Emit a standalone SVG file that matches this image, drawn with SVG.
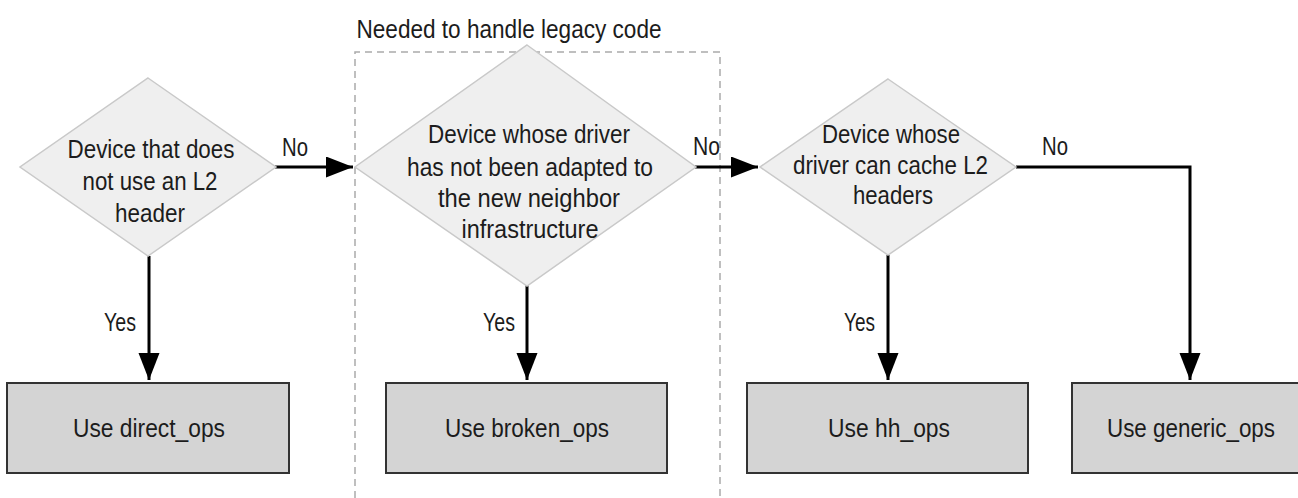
<svg xmlns="http://www.w3.org/2000/svg" width="1298" height="498" viewBox="0 0 1298 498">
<style>
text{font-family:"Liberation Sans Narrow","Liberation Sans",Arial,sans-serif;font-size:25px;fill:#1c1c1c;text-anchor:middle}
.dia{fill:#efefef;stroke:#c9c9c9;stroke-width:1.5}
.box{fill:#d4d4d4;stroke:#333;stroke-width:2}
.con{fill:none;stroke:#000;stroke-width:3}
.grp{fill:none;stroke:#aaa;stroke-width:1.5;stroke-dasharray:7 5}
</style>
<defs>
<marker id="ah" markerUnits="userSpaceOnUse" markerWidth="28" markerHeight="22" refX="27" refY="10.5" orient="auto">
<path d="M0,0 L27,10.5 L0,21 z" fill="#000"/>
</marker>
</defs>
<rect fill="#fff" x="0" y="0" width="1298" height="498"/>
<g id="legacy-group">
<path class="grp" d="M355,498 V52 H720 V498"/>
<text x="509" y="38" textLength="305" lengthAdjust="spacingAndGlyphs">Needed to handle legacy code</text>
</g>
<g id="connectors">
<path class="con" d="M275,167 H353" marker-end="url(#ah)"/>
<path class="con" d="M695,167 H758" marker-end="url(#ah)"/>
<path class="con" d="M1016,167 H1190 V380" marker-end="url(#ah)"/>
<path class="con" d="M149,256 V380" marker-end="url(#ah)"/>
<path class="con" d="M527,285 V380" marker-end="url(#ah)"/>
<path class="con" d="M888,255 V380" marker-end="url(#ah)"/>
<text x="295" y="156" textLength="26" lengthAdjust="spacingAndGlyphs">No</text>
<text x="706.5" y="155" textLength="27" lengthAdjust="spacingAndGlyphs">No</text>
<text x="1055" y="155" textLength="26" lengthAdjust="spacingAndGlyphs">No</text>
<text x="120" y="331" textLength="32" lengthAdjust="spacingAndGlyphs">Yes</text>
<text x="499" y="331" textLength="32" lengthAdjust="spacingAndGlyphs">Yes</text>
<text x="859.5" y="331" textLength="31" lengthAdjust="spacingAndGlyphs">Yes</text>
</g>
<g id="d1">
<path class="dia" d="M148,78 L276,167 L148,256 L20,167 z"/>
<text x="151" y="158" textLength="167" lengthAdjust="spacingAndGlyphs">Device that does</text>
<text x="150" y="190" textLength="135" lengthAdjust="spacingAndGlyphs">not use an L2</text>
<text x="150" y="222" textLength="70" lengthAdjust="spacingAndGlyphs">header</text>
</g>
<g id="d2">
<path class="dia" d="M527,45 L696,167 L527,286 L355,167 z"/>
<text x="529" y="143" textLength="202" lengthAdjust="spacingAndGlyphs">Device whose driver</text>
<text x="530" y="176" textLength="246" lengthAdjust="spacingAndGlyphs">has not been adapted to</text>
<text x="529" y="207" textLength="182" lengthAdjust="spacingAndGlyphs">the new neighbor</text>
<text x="530" y="238" textLength="137" lengthAdjust="spacingAndGlyphs">infrastructure</text>
</g>
<g id="d3">
<path class="dia" d="M888,79 L1016,167 L888,255 L760,167 z"/>
<text x="891" y="143" textLength="138" lengthAdjust="spacingAndGlyphs">Device whose</text>
<text x="890.5" y="174" textLength="195" lengthAdjust="spacingAndGlyphs">driver can cache L2</text>
<text x="893" y="204" textLength="80" lengthAdjust="spacingAndGlyphs">headers</text>
</g>
<g id="b1">
<rect class="box" x="7" y="383" width="282" height="90"/>
<text x="149" y="437" textLength="152" lengthAdjust="spacingAndGlyphs">Use direct_ops</text>
</g>
<g id="b2">
<rect class="box" x="386" y="383" width="281" height="90"/>
<text x="527" y="437" textLength="164" lengthAdjust="spacingAndGlyphs">Use broken_ops</text>
</g>
<g id="b3">
<rect class="box" x="747" y="383" width="281" height="90"/>
<text x="889" y="437" textLength="122" lengthAdjust="spacingAndGlyphs">Use hh_ops</text>
</g>
<g id="b4">
<rect class="box" x="1072" y="383" width="240" height="90"/>
<text x="1191" y="437" textLength="168" lengthAdjust="spacingAndGlyphs">Use generic_ops</text>
</g>
</svg>
